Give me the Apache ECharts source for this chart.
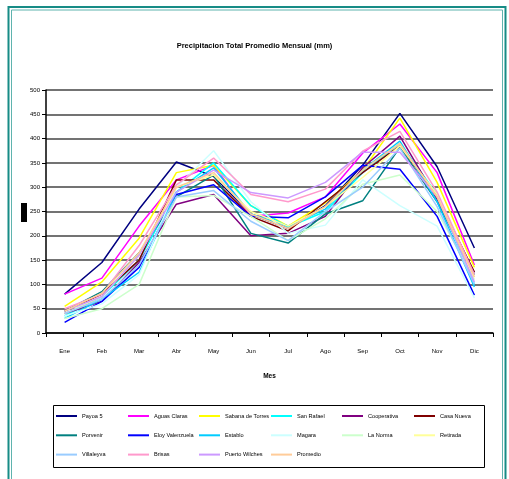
<!DOCTYPE html>
<html><head><meta charset="utf-8">
<script src="https://cdn.jsdelivr.net/npm/echarts@6/dist/echarts.min.js"></script>
<style>html,body{margin:0;padding:0;background:#fff}#c{width:509px;height:479px}</style>
</head><body><div id="c"></div>
<script>
const months = ['Ene','Feb','Mar','Abr','May','Jun','Jul','Ago','Sep','Oct','Nov','Dic'];
const seriesNames = ['Payoa 5','Aguas Claras','Sabana de Torres','San Rafael','Cooperativa','Casa Nueva',
  'Porvenir','Eloy Valenzuela','Establo','Magara','La Norma','Retirada',
  'Villaleyva','Brisas','Puerto Wilches','Promedio'];
const seriesColors = ['#000080','#FF00FF','#FFFF00','#00FFFF','#800080','#800000',
  '#008080','#0000FF','#00CCFF','#CCFFFF','#CCFFCC','#FFFF99',
  '#99CCFF','#FF99CC','#CC99FF','#FFCC99'];
const payoa5        = [80,145,255,352,322,245,215,262,345,452,342,175];
const aguasClaras   = [80,113,220,315,345,240,247,280,370,430,330,140];
const sabanaTorres  = [55,105,195,330,345,262,220,268,335,442,310,135];
const sanRafael     = [35,75,150,290,350,262,218,250,330,390,285,100];
const cooperativa   = [40,65,145,265,285,200,205,240,340,405,275,125];
const casaNueva     = [45,80,150,315,315,240,210,270,330,385,280,125];
const porvenir      = [45,85,165,280,325,205,185,245,272,382,270,120];
const eloyValenzuela= [22,65,135,285,305,240,237,280,345,337,240,78];
const establo       = [30,70,125,290,340,245,220,255,335,395,270,95];
const magara        = [35,60,120,300,375,270,205,222,315,262,220,72];
const laNorma       = [30,50,100,280,283,240,190,235,306,325,250,110];
const retirada      = [40,75,160,300,325,250,220,260,320,385,285,115];
const villaleyva    = [40,70,140,280,293,230,190,250,300,380,260,100];
const brisas        = [50,80,180,305,360,285,270,296,374,415,290,120];
const puertoWilches = [45,75,160,290,335,289,278,310,372,372,280,105];
const promedio      = [45,82,165,300,330,245,215,260,335,390,280,115];
const allData = [payoa5,aguasClaras,sabanaTorres,sanRafael,cooperativa,casaNueva,
  porvenir,eloyValenzuela,establo,magara,laNorma,retirada,
  villaleyva,brisas,puertoWilches,promedio];

const FF = 'Liberation Sans, Arial, sans-serif';
const colX = [56,128,199,271,342,414];
const legends = colX.map((x,c)=>({
  orient:'vertical', left:x, top:411, itemWidth:21, itemHeight:2, itemGap:9.3,
  icon:'rect', padding:0,
  data: [seriesNames[c], seriesNames[c+6], seriesNames[c+12]].filter(Boolean),
  textStyle:{fontFamily:FF, fontSize:5.6, color:'#000', lineHeight:10}
}));

const chart = echarts.init(document.getElementById('c'));
chart.setOption({
  backgroundColor:'#fff',
  animation:false,
  title:{text:'Precipitacion Total Promedio Mensual (mm)', left:'center', top:37,
    textStyle:{fontFamily:FF, fontSize:7.5, fontWeight:'bold', color:'#000'}},
  grid:{left:46, right:16, top:90, bottom:146},
  legend: legends,
  xAxis:{type:'category', data:months, boundaryGap:true, name:'Mes', nameLocation:'middle', nameGap:40,
    nameTextStyle:{fontFamily:FF, fontSize:6.5, fontWeight:'bold', color:'#000'},
    axisLine:{lineStyle:{color:'#000', width:1.5}},
    axisTick:{show:true, length:4, lineStyle:{color:'#000'}},
    axisLabel:{fontFamily:FF, fontSize:6, color:'#000', margin:15},
    splitLine:{show:false}},
  yAxis:{type:'value', min:0, max:500, interval:50,
    axisLine:{show:true, lineStyle:{color:'#000', width:1.5}},
    axisTick:{show:true, length:4, lineStyle:{color:'#000'}},
    axisLabel:{fontFamily:FF, fontSize:6, color:'#000', margin:6},
    splitLine:{show:true, lineStyle:{color:'#444', width:1.5}}},
  graphic:[
    {type:'rect', shape:{x:8.5,y:7,width:497,height:480}, style:{fill:'none', stroke:'#178C86', lineWidth:2}, silent:true},
    {type:'rect', shape:{x:11.5,y:10,width:491,height:480}, style:{fill:'none', stroke:'#5FB3AE', lineWidth:1}, silent:true},
    {type:'rect', shape:{x:21,y:203,width:6,height:19}, style:{fill:'#000'}, silent:true},
    {type:'rect', shape:{x:53.5,y:405.5,width:431,height:62}, style:{fill:'none', stroke:'#000', lineWidth:1}, silent:true}
  ],
  series: allData.map((d,i)=>({
    name:seriesNames[i], type:'line', data:d, showSymbol:false, symbol:'none',
    color:seriesColors[i], lineStyle:{width:1.5, color:seriesColors[i]}
  }))
});
</script></body></html>
